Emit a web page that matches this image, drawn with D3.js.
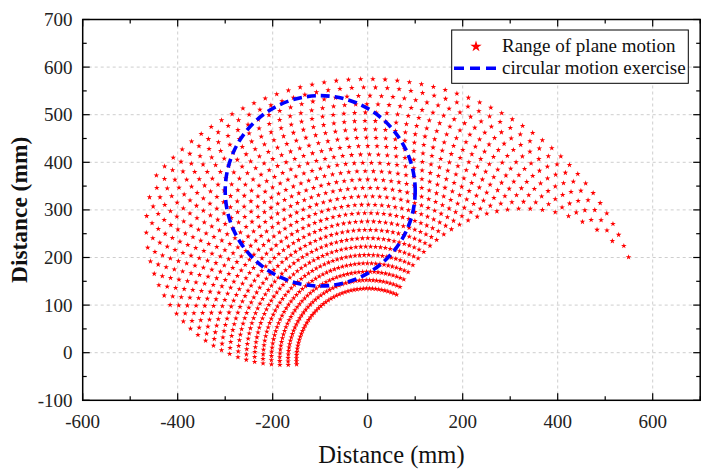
<!DOCTYPE html>
<html><head><meta charset="utf-8">
<script src="https://cdn.jsdelivr.net/npm/d3@7"></script>
<style>body{margin:0;background:#fff}svg{display:block}</style>
</head><body><svg id="c" width="709" height="476"></svg>
<script>
// ---- data ----
// shoulder angles (deg) and hand reach distances from the shoulder (mm) of the sampled arm postures
const shoulderAngles = [5,7.5,10,12.5,15,17.5,20,22.5,25,27.5,30,32.5,35,37.5,40,42.5,45,47.5,50,52.5,55,57.5,60,62.5,65,67.5,70,72.5,75,77.5,80,82.5,85,87.5,90,92.5,95,97.5,100,102.5,105,107.5,110,112.5,115,117.5,120,122.5];
const reachRadii = [150,167.6,185.2,202.8,220.4,238,255.6,273.2,290.8,308.4,326,343.6,361.2,378.8,396.4,414,431.6,449.2,466.8,484.4,502,519.6,537.2,554.8,572.4,590];
const linkLengths = [330, 289];          // upper arm, forearm (mm)
const basePoint = [0, -15];             // shoulder position (mm)
const exerciseCircle = [-100, 340, 200]; // cx, cy, r (mm)
const xMajor = [-600,-400,-200,0,200,400,600];
const xMinor = [-500,-300,-100,100,300,500,700];
const yMajor = [-100,0,100,200,300,400,500,600,700];
const yMinor = [-50,50,150,250,350,450,550,650];
const xGrid = [-400,-200,0,200,400,600];
const yGrid = [0,100,200,300,400,500,600];
const legendLabels = ["Range of plane motion","circular motion exercise"];
const axisTitles = ["Distance (mm)","Distance (mm)"];

// ---- reachable points ----
const rad = Math.PI/180;
const [l1, l2] = linkLengths;
const points = [];
shoulderAngles.forEach(a => reachRadii.forEach(r => {
  const elbow = Math.acos(Math.max(-1, Math.min(1, (r*r - l1*l1 - l2*l2) / (2*l1*l2))));
  const t1 = a*rad, t2 = a*rad + elbow;
  points.push([basePoint[0] + l1*Math.cos(t1) + l2*Math.cos(t2),
               basePoint[1] + l1*Math.sin(t1) + l2*Math.sin(t2)]);
}));

// ---- layout ----
const L = 82.7, R = 700.2, T = 19.5, B = 400.3;
const x = d3.scaleLinear().domain([-600,700]).range([L,R]);
const y = d3.scaleLinear().domain([-100,700]).range([B,T]);
const svg = d3.select("#c");
const font = "'Liberation Serif','Times New Roman',serif";

// grid
const g = svg.append("g").attr("stroke","#c8c8c8").attr("stroke-width",0.9).attr("stroke-dasharray","3,3");
g.selectAll("line.v").data(xGrid).join("line").attr("x1",d=>x(d)).attr("x2",d=>x(d)).attr("y1",T).attr("y2",B);
g.selectAll("line.h").data(yGrid).join("line").attr("y1",d=>y(d)).attr("y2",d=>y(d)).attr("x1",L).attr("x2",R);

// points
const star = d3.symbol().type(d3.symbolStar).size(10)();
svg.append("g").selectAll("path").data(points).join("path")
  .attr("d", star).attr("fill","#ff0000")
  .attr("transform", d => `translate(${x(d[0])},${y(d[1])})`);

// circle
const [cx, cy, cr] = exerciseCircle;
svg.append("ellipse").attr("cx",x(cx)).attr("cy",y(cy))
  .attr("rx", x(cx+cr)-x(cx)).attr("ry", y(cy)-y(cy+cr))
  .attr("fill","none").attr("stroke","#0000ff").attr("stroke-width",3.6)
  .attr("stroke-dasharray","9,5");

// frame + ticks
const ax = svg.append("g").attr("stroke","#000");
ax.append("rect").attr("x",L).attr("y",T).attr("width",R-L).attr("height",B-T)
  .attr("fill","none").attr("stroke-width",1.5);
function ticksX(vals, len){
  ax.selectAll(null).data(vals).join("line").attr("x1",d=>x(d)).attr("x2",d=>x(d)).attr("y1",B).attr("y2",B-len).attr("stroke-width",1.2);
  ax.selectAll(null).data(vals).join("line").attr("x1",d=>x(d)).attr("x2",d=>x(d)).attr("y1",T).attr("y2",T+len).attr("stroke-width",1.2);
}
function ticksY(vals, len){
  ax.selectAll(null).data(vals).join("line").attr("y1",d=>y(d)).attr("y2",d=>y(d)).attr("x1",L).attr("x2",L+len).attr("stroke-width",1.2);
  ax.selectAll(null).data(vals).join("line").attr("y1",d=>y(d)).attr("y2",d=>y(d)).attr("x1",R).attr("x2",R-len).attr("stroke-width",1.2);
}
ticksX(xMajor, 7); ticksX(xMinor, 4);
ticksY(yMajor, 7); ticksY(yMinor, 4);

// tick labels
svg.append("g").selectAll("text").data(xMajor).join("text")
  .attr("x",d=>x(d)).attr("y",428).attr("text-anchor","middle")
  .attr("font-family",font).attr("font-size",19).attr("fill","#222").text(d=>String(d));
svg.append("g").selectAll("text").data(yMajor).join("text")
  .attr("x",72.5).attr("y",d=>y(d)+6.5).attr("text-anchor","end")
  .attr("font-family",font).attr("font-size",19).attr("fill","#222").text(d=>String(d));

// axis titles
svg.append("text").attr("x",(L+R)/2).attr("y",463).attr("text-anchor","middle")
  .attr("font-family",font).attr("font-size",24.5).attr("fill","#111").text(axisTitles[0]);
svg.append("text").attr("transform",`translate(27,${(T+B)/2}) rotate(-90)`).attr("text-anchor","middle")
  .attr("font-family",font).attr("font-size",23.4).attr("font-weight","bold").attr("fill","#111").text(axisTitles[1]);

// legend
const lg = svg.append("g");
lg.append("rect").attr("x",451.7).attr("y",30).attr("width",236.6).attr("height",53.3)
  .attr("fill","#fff").attr("stroke","#000").attr("stroke-width",1);
lg.append("path").attr("d", d3.symbol().type(d3.symbolStar).size(40)()).attr("fill","#ff0000")
  .attr("transform","translate(476,46.5)");
lg.append("line").attr("x1",454).attr("x2",496).attr("y1",68.3).attr("y2",68.3)
  .attr("stroke","#0000ff").attr("stroke-width",3.6).attr("stroke-dasharray","10,6");
lg.selectAll("text").data(legendLabels).join("text")
  .attr("x",502).attr("y",(d,i)=>51.5+i*22).attr("font-family",font).attr("font-size",19)
  .attr("fill","#111").text(d=>d);
</script></body></html>
